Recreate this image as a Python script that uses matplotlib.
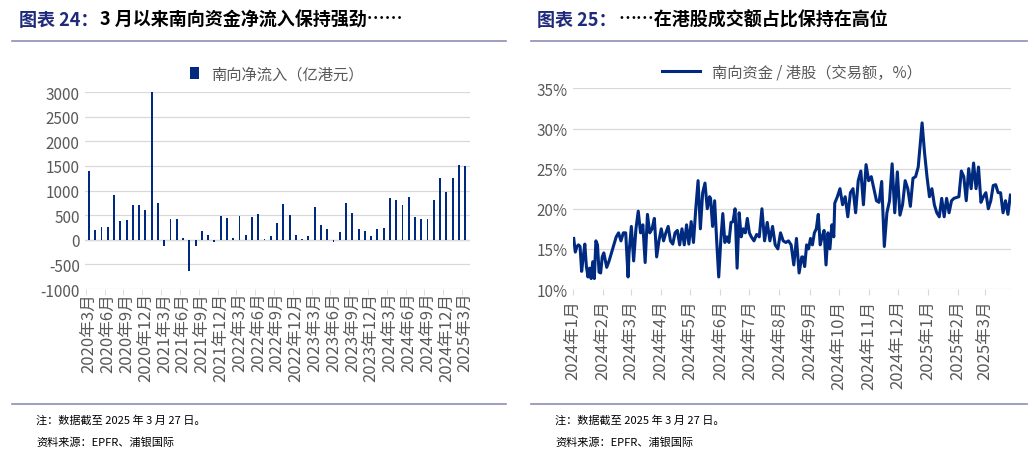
import numpy as np
import pandas as pd
import matplotlib
matplotlib.use("Agg")
import matplotlib.pyplot as plt
from matplotlib.lines import Line2D

plt.rcParams["font.family"] = ["Noto Sans CJK SC", "DejaVu Sans"]
plt.rcParams["axes.unicode_minus"] = False

NAVY = "#002A7F"
GRID = "#D9D9D9"
TICK = "#595959"

# left: monthly southbound net inflow (HKD 100m), 2020-03 .. 2025-03
months = pd.date_range("2020-03-01", "2025-03-01", freq="MS")
inflow = [1400, 190, 260, 250, 910, 380, 410, 700, 700, 600,
          3000, 750, -120, 430, 430, 40, -630, -130, 180, 100,
          -40, 490, 440, 40, 490, 100, 460, 530, 10, 80,
          350, 730, 500, 90, 10, 80, 670, 310, 220, -50,
          150, 750, 550, 220, 180, 80, 220, 240, 850, 800,
          700, 870, 470, 420, 420, 810, 1250, 960, 1260, 1520, 1490]
month_labels = [f"{d.year}年{d.month}月" for d in months]

# right: southbound share of HK turnover (%), segments of a daily series
seg_dates = [("2024-01-02", "2024-02-02"), ("2024-02-05", "2024-02-27"),
             ("2024-02-28", "2024-05-21"), ("2024-05-22", "2024-07-01"),
             ("2024-07-03", "2024-08-24"), ("2024-08-25", "2024-09-26"),
             ("2024-09-27", "2024-12-22"), ("2024-12-26", "2025-03-27")]
seg_values = [
    [16.3, 14.6, 15.3, 15.5, 15.3, 12.2, 14.0, 15.6, 12.8, 11.5, 12.6, 11.3, 13.4, 11.3, 16.0, 15.5, 12.1, 12.0, 14.0, 14.5],
    [12.7, 13.5, 14.5, 15.5, 16.5, 17.0, 16.0, 17.0, 17.0, 11.5],
    [14.5, 17.8, 13.5, 17.5, 19.7, 17.0, 18.0, 13.3, 19.3, 17.0, 17.5, 18.8, 14.0, 16.0, 17.5, 16.0, 17.0, 17.8, 16.0, 15.6,
     17.0, 17.3, 15.5, 17.5, 15.5, 18.0, 15.6, 18.4, 15.8, 20.0, 23.5, 17.5, 22.0, 23.2, 20.0, 21.5],
    [21.3, 17.8, 21.0, 16.0, 11.5, 16.0, 19.4, 15.8, 16.5, 15.8, 18.3, 18.4, 20.0, 12.6, 19.5, 16.5, 17.5, 17.0, 18.8, 17.0],
    [16.5, 16.0, 16.8, 16.5, 20.0, 16.0, 18.3, 16.0, 17.8, 15.5, 15.0, 17.0, 16.0, 15.8, 16.0, 15.5, 13.0, 16.3, 12.0, 14.0],
    [14.0, 12.8, 15.5, 15.0, 16.3, 15.5, 17.0, 17.5, 19.3, 15.5, 16.5, 17.3, 13.0, 17.0, 15.0, 18.0, 16.5],
    [20.7, 21.5, 22.5, 20.5, 21.5, 19.0, 22.0, 22.5, 19.5, 23.5, 24.7, 20.5, 25.5, 23.5, 24.0, 22.5, 21.0, 20.8, 23.4, 15.3,
     19.5, 21.0, 25.6, 19.5, 24.6, 19.2, 20.5, 23.5, 22.5, 20.3, 23.8, 24.0, 25.2],
    [30.7, 27.0, 24.0, 21.5, 22.5, 20.5, 19.5, 19.0, 21.3, 19.0, 21.3, 19.5, 21.0, 21.3, 21.4, 21.5, 24.7, 24.0, 21.0, 25.0,
     22.5, 25.7, 22.5, 25.2, 20.8, 21.5, 22.0, 20.0, 21.0, 22.9, 23.0, 22.0, 22.0, 19.5, 21.0, 19.3, 21.7],
]
share_dates = []
share = []
for (a, b), vals in zip(seg_dates, seg_values):
    share_dates.extend(pd.date_range(a, b, periods=len(vals)))
    share.extend(vals)
share_ticks = pd.date_range("2024-01-01", "2025-03-01", freq="MS")
share_labels = [f"{d.year}年{d.month}月" for d in share_ticks]

fig = plt.figure(figsize=(10.32, 4.56), dpi=100)

# titles
for x0, num, txt in [(0.018, "24：", "3 月以来南向资金净流入保持强劲……"),
                     (0.52, "25：", "……在港股成交额占比保持在高位")]:
    t = fig.text(x0, 0.955, "图表 " + num, color="#1F2A7A", fontsize=13, fontweight="bold", va="center")
    fig.canvas.draw()
    bb = t.get_window_extent().transformed(fig.transFigure.inverted())
    fig.text(bb.x1 + 0.002, 0.955, txt, color="black", fontsize=13, fontweight="bold", va="center")

for x0, x1 in [(0.012, 0.49), (0.515, 0.995)]:
    fig.add_artist(Line2D([x0, x1], [0.908, 0.908], color="#8E8EB5", lw=1.2))
    fig.add_artist(Line2D([x0, x1], [0.112, 0.112], color="#8E8EB5", lw=1.2))
    fig.text(x0 + 0.023, 0.078, "注：数据截至 2025 年 3 月 27 日。", fontsize=8, va="center")
    fig.text(x0 + 0.023, 0.03, "资料来源：EPFR、浦银国际", fontsize=8, va="center")

# left chart
ax1 = fig.add_axes([0.082, 0.364, 0.373, 0.432])
x = np.arange(len(months))
ax1.bar(x, inflow, width=0.3, color=NAVY, label="南向净流入（亿港元）", zorder=3)
ax1.set_ylim(-1000, 3000)
ax1.set_yticks(np.arange(-1000, 3001, 500))
ax1.set_xlim(-0.7, len(months) - 0.3)
ax1.set_xticks(x[::3])
ax1.set_xticklabels(month_labels[::3], rotation=90, fontsize=12, color=TICK)
ax1.set_xticks(x[::3] - 0.5, minor=True)
ax1.tick_params(axis="x", which="major", length=0, pad=2)
ax1.tick_params(axis="x", which="minor", length=4, color=GRID)
ax1.tick_params(axis="y", length=0, labelsize=11, colors=TICK)
ax1.grid(axis="y", color=GRID, lw=0.9, zorder=0)
ax1.axhline(0, color=GRID, lw=1, zorder=1)
for s in ax1.spines.values():
    s.set_visible(False)
ax1.legend(loc="lower center", bbox_to_anchor=(0.5, 0.98), frameon=False, fontsize=11,
           handlelength=0.6, handleheight=0.8, labelcolor=TICK)

# right chart
ax2 = fig.add_axes([0.555, 0.364, 0.425, 0.44])
ax2.plot(share_dates, share, color=NAVY, lw=2.2, label="南向资金 / 港股（交易额，%）", zorder=3)
ax2.set_ylim(10, 35)
ax2.set_yticks(np.arange(10, 36, 5))
ax2.set_yticklabels([f"{v}%" for v in range(10, 36, 5)])
ax2.set_xlim(pd.Timestamp("2024-01-01"), pd.Timestamp("2025-03-28"))
ax2.set_xticks(share_ticks)
ax2.set_xticklabels(share_labels, rotation=90, fontsize=12, color=TICK)
ax2.tick_params(axis="x", length=4, color=GRID)
ax2.tick_params(axis="y", length=0, labelsize=11, colors=TICK)
ax2.grid(axis="y", color=GRID, lw=0.9, zorder=0)
for s in ax2.spines.values():
    s.set_visible(False)
ax2.legend(loc="lower center", bbox_to_anchor=(0.5, 0.97), frameon=False, fontsize=11,
           handlelength=2.5, labelcolor=TICK)

fig.savefig("out.png", dpi=100)
